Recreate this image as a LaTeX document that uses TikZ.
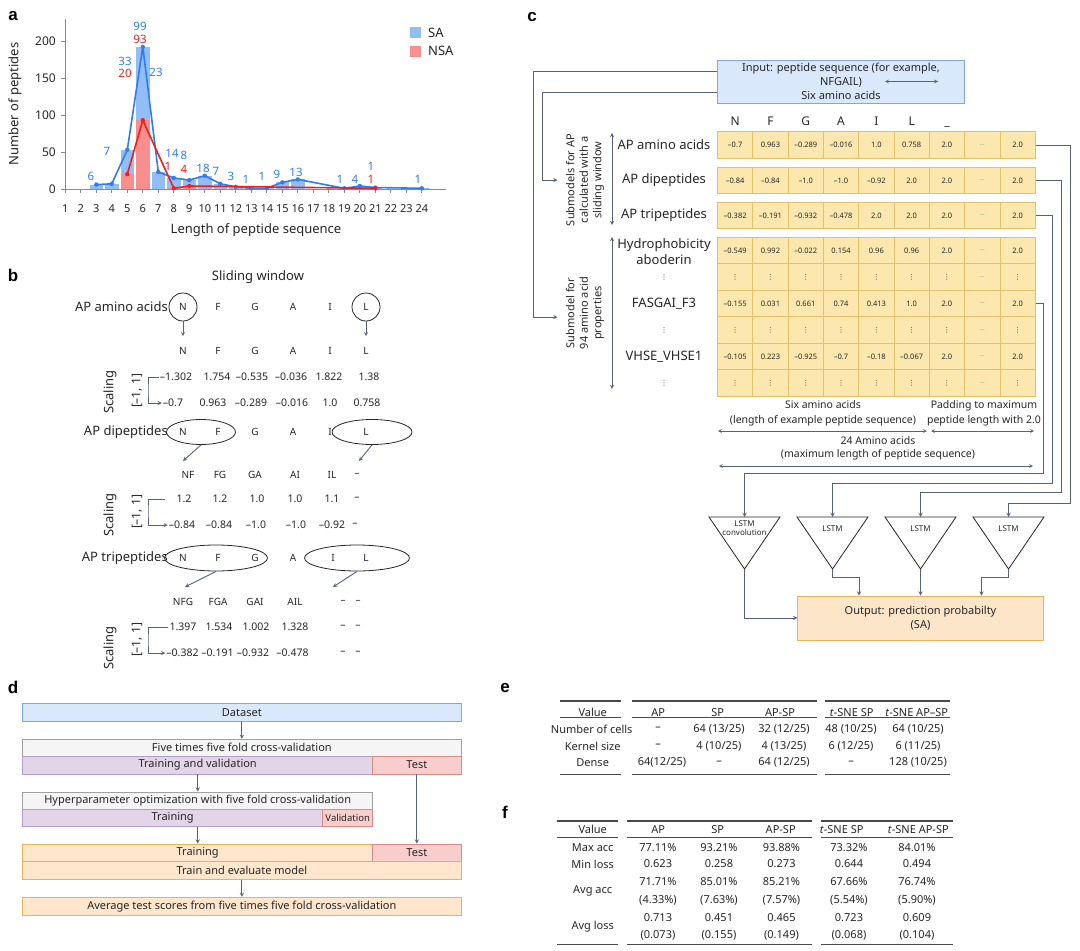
\documentclass[tikz,border=0pt]{standalone}
\usepackage{fontspec}
\setmainfont{Noto Sans}
\newfontfamily\tagfont{Liberation Sans}
\newfontfamily\symfont{DejaVu Sans}
\usepackage{amsmath}
\usepackage{tikz}
\usetikzlibrary{calc}
\usetikzlibrary{shapes.geometric}
\definecolor{textdark}{HTML}{262626}
\definecolor{sabar}{HTML}{93BDF5}
\definecolor{sablue}{HTML}{2F7DF2}
\definecolor{nsabar}{HTML}{F98E8E}
\definecolor{nsared}{HTML}{F21E1E}
\definecolor{axisgray}{HTML}{8A8A8A}
\definecolor{arrowgray}{HTML}{56627A}
\definecolor{boxblue}{HTML}{DAE8FC}
\definecolor{boxblueline}{HTML}{7EA6E0}
\definecolor{cellfill}{HTML}{FCE8AE}
\definecolor{cellline}{HTML}{E3C16C}
\definecolor{outfill}{HTML}{FDE5C9}
\definecolor{outline}{HTML}{EBB458}
\definecolor{grayfill}{HTML}{F5F5F5}
\definecolor{grayline}{HTML}{A0A0A0}
\definecolor{purplefill}{HTML}{E1D5E7}
\definecolor{purpleline}{HTML}{B39DC6}
\definecolor{redfill}{HTML}{F8CECC}
\definecolor{redline}{HTML}{DC8A88}
\definecolor{orangefill}{HTML}{FFE6CC}
\definecolor{orangeline}{HTML}{E8B450}
\definecolor{rulegray}{HTML}{4A4A4A}
\newcommand{\padots}{{\fontsize{6}{6}\selectfont\color{gray}...}}
\newcommand{\rowdots}{{\symfont\fontsize{7}{7}\selectfont ⋮}}
\tikzset{
	paneltag/.style={font=\tagfont\fontsize{17}{19}\selectfont\bfseries,text=black,inner sep=0},
	axisline/.style={draw=axisgray,line width=0.8pt},
	ticktext/.style={font=\fontsize{11}{13}\selectfont,text=textdark,inner sep=0},
	ytick/.style={font=\fontsize{12}{14}\selectfont,text=textdark,inner sep=0},
	satext/.style={font=\fontsize{11.5}{13}\selectfont,text=sablue,inner sep=0},
	nsatext/.style={font=\fontsize{11.5}{13}\selectfont,text=nsared,inner sep=0},
	bigtext/.style={font=\fontsize{13}{15}\selectfont,text=textdark},
	smalltext/.style={font=\fontsize{10.5}{15}\selectfont,text=textdark,align=center},
	lettext/.style={font=\fontsize{10}{12}\selectfont,text=textdark,inner sep=1pt},
	valtext/.style={font=\fontsize{10.5}{12}\selectfont,text=textdark,inner sep=1pt},
	scaletext/.style={font=\fontsize{13}{15}\selectfont,text=textdark,rotate=90,inner sep=0},
	wincircle/.style={circle,draw=black!85,line width=0.8pt,minimum size=28pt,inner sep=0},
	winoval/.style={ellipse,draw=black!85,line width=0.8pt,minimum height=25pt,inner sep=0},
	flowarrow/.style={draw=arrowgray,line width=0.9pt,-stealth},
	twoway/.style={draw=arrowgray,line width=0.9pt,stealth-stealth},
	cell/.style={rectangle,draw=cellline,fill=cellfill,line width=0.7pt,minimum width=35.3pt,minimum height=26.5pt,inner sep=0,font=\fontsize{7.5}{9}\selectfont,text=textdark},
	colletter/.style={font=\fontsize{12}{14}\selectfont,text=textdark,anchor=base,inner sep=0},
	rowlabel/.style={font=\fontsize{13}{15.3}\selectfont,text=textdark,align=center},
	sidelabel/.style={font=\fontsize{11}{13.5}\selectfont,text=textdark,align=center,rotate=90},
	lstmtext/.style={font=\fontsize{8}{9}\selectfont,text=textdark,align=center,inner sep=0},
	trishape/.style={draw=black!85,line width=0.8pt},
	flowbox/.style={rectangle,line width=0.8pt,inner sep=0,font=\fontsize{11}{14}\selectfont,text=textdark},
	bluebox/.style={flowbox,fill=boxblue,draw=boxblueline},
	graybox/.style={flowbox,fill=grayfill,draw=grayline},
	purplebox/.style={flowbox,fill=purplefill,draw=purpleline},
	redbox/.style={flowbox,fill=redfill,draw=redline},
	orangebox/.style={flowbox,fill=orangefill,draw=orangeline},
	tabtext/.style={font=\fontsize{11}{13}\selectfont,text=textdark,inner sep=0},
	tabrule/.style={draw=rulegray,line width=1.1pt},
	tabrulethin/.style={draw=rulegray,line width=0.7pt}
}

\begin{document}
\begin{tikzpicture}[x=1pt,y=-1pt]
	\useasboundingbox (0,0) rectangle (1080,951);
	% panel a
	\node[paneltag] (pa) at (13,16) {a};
	\foreach \n/\v in {3/6,4/7,5/53,6/192,7/23,8/15,9/12,10/18,11/7,12/3,13/1,14/1,15/9,16/13,19/1,20/4,21/2,24/1}
		\fill[sabar] (43+15.5*\n,189) rectangle ++(13.6,-0.74*\v);
	\foreach \n/\v in {5/20,6/93,8/1,9/4,21/1}
		\fill[nsabar] (43+15.5*\n,189) rectangle ++(13.6,-0.74*\v);
	\draw[axisline] (65,19) -- (65,189) -- (446,189);
	\foreach \n in {1,...,24} {
		\draw[axisline] (49.8+15.5*\n,189) -- ++(0,4);
		\node[ticktext] (xt\n) at (49.8+15.5*\n,209) {\n};
	}
	\foreach \v in {0,50,100,150,200} {
		\draw[axisline] (65,189-0.74*\v) -- ++(-4,0);
		\node[ytick,anchor=east] (yt\v) at (56,189-0.74*\v) {\v};
	}
	\draw[sablue,line width=1.6pt,line join=round] (96.3,184.6) -- (111.8,183.8) -- (127.3,149.8) -- (142.8,46.9) -- (158.3,172) -- (173.8,177.9) -- (189.3,180.1) -- (204.8,175.7) -- (220.3,183.8) -- (235.8,186.8) -- (251.3,188.3) -- (266.8,188.3) -- (282.3,182.3) -- (297.8,179.4) -- (344.3,188.3) -- (359.8,186) -- (375.3,187.5) -- (421.8,188.3);
	\foreach \n/\v in {3/6,4/7,5/53,6/192,7/23,8/15,9/12,10/18,11/7,12/3,13/1,14/1,15/9,16/13,19/1,20/4,21/2,24/1}
		\fill[sablue] (49.8+15.5*\n,189-0.74*\v) circle (2.2);
	\draw[nsared,line width=1.6pt,line join=round] (127.3,174.2) -- (142.8,120.2) -- (173.8,188.3) -- (189.3,186) -- (375.3,188.3);
	\foreach \n/\v in {5/20,6/93,8/1,9/4,21/1}
		\fill[nsared] (49.8+15.5*\n,189-0.74*\v) circle (2.2);
	\foreach \x/\y/\t [count=\i] in {91/176/6,107/151/7,125/61/33,140/26/99,156/72/23,172/153/14,184/155/8,203/168/18,216/171/7,231/176/3,246/179/1,262/176/1,277/174/9,296/172/13,340/179/1,355/179/4,371/166/1,418/179/1}
		\node[satext] (sal\i) at (\x,\y) {\t};
	\foreach \x/\y/\t [count=\i] in {125/73/20,140/39/93,168/166/1,184/169/4,371/179/1}
		\node[nsatext] (nsal\i) at (\x,\y) {\t};
	\node[rectangle,fill=sabar,minimum size=11pt,inner sep=0] (legsa) at (415.3,32.8) {};
	\node[rectangle,fill=nsabar,minimum size=11pt,inner sep=0] (legnsa) at (415.3,51.2) {};
	\node[bigtext,anchor=west,inner sep=0] (legsat) at (428,32.8) {SA};
	\node[bigtext,anchor=west,inner sep=0] (legnsat) at (428,51.2) {NSA};
	\node[bigtext,rotate=90] (ylab) at (15,104) {Number of peptides};
	\node[bigtext] (xlab) at (256,230) {Length of peptide sequence};

	% panel b
	\node[paneltag] (pb) at (13,275) {b};
	\node[bigtext] (swin) at (258,277) {Sliding window};
	\node[bigtext,anchor=east,inner sep=0] (bl1) at (168,307) {AP amino acids};
	\foreach \x/\t [count=\i] in {183/N,218/F,255/G,293/A,330/I,366/L}
		\node[lettext] (b1l\i) at (\x,307) {\t};
	\node[wincircle] (bwin1) at (183,307) {};
	\node[wincircle] (bwin2) at (366,307) {};
	\foreach \x/\t [count=\i] in {183/N,218/F,255/G,293/A,330/I,366/L}
		\node[lettext] (b2l\i) at (\x,351) {\t};
	\draw[flowarrow,shorten >=10pt] (bwin1) -- (b2l1);
	\draw[flowarrow,shorten >=10pt] (bwin2) -- (b2l6);
	\foreach \x/\t [count=\i] in {176/--1.302,217/1.754,252/--0.535,291/--0.036,329/1.822,369/1.38}
		\node[valtext] (b1v\i) at (\x,377) {\t};
	\foreach \x/\t [count=\i] in {173/--0.7,213/0.963,251/--0.289,292/--0.016,330/1.0,367/0.758}
		\node[valtext] (b2v\i) at (\x,403) {\t};
	\node[scaletext] (bsc1) at (110,392) {Scaling};
	\node[scaletext,font=\fontsize{12}{14}\selectfont] (bsr1) at (137,391) {[--1, 1]};
	\draw[flowarrow] (b1v1.west) -| (148,390) |- (b2v1.west);

	\node[bigtext,anchor=east,inner sep=0] (bl2) at (168,432) {AP dipeptides};
	\foreach \x/\t [count=\i] in {183/N,218/F,255/G,293/A,330/I,366/L}
		\node[lettext] (b3l\i) at (\x,432) {\t};
	\node[winoval,minimum width=69pt] (bov1) at (201,432) {};
	\node[winoval,minimum width=80pt] (bov2) at (372,432) {};
	\coordinate (bd1) at (183,461);
	\coordinate (bd2) at (359,461);
	\draw[flowarrow] (bov1.south) -- (bd1);
	\draw[flowarrow] (bov2.south) -- (bd2);
	\foreach \x/\t [count=\i] in {188/NF,220/FG,255/GA,295/AI,332/IL,357/--}
		\node[lettext] (b4l\i) at (\x,475) {\t};
	\foreach \x/\t [count=\i] in {184/1.2,220/1.2,257/1.0,295/1.0,332/1.1,357/--}
		\node[valtext] (b4v\i) at (\x,499) {\t};
	\foreach \x/\t [count=\i] in {182/--0.84,219/--0.84,256/--1.0,296/--1.0,332/--0.92,355/--}
		\node[valtext] (b5v\i) at (\x,525) {\t};
	\node[scaletext] (bsc2) at (110,515) {Scaling};
	\node[scaletext,font=\fontsize{12}{14}\selectfont] (bsr2) at (137,512) {[--1, 1]};
	\draw[flowarrow] ([xshift=-10pt]b4v1.west) -| (148,510) |- (b5v1.west);

	\node[bigtext,anchor=east,inner sep=0] (bl3) at (168,558) {AP tripeptides};
	\foreach \x/\t [count=\i] in {183/N,218/F,255/G,293/A,333/I,366/L}
		\node[lettext] (b6l\i) at (\x,558) {\t};
	\node[winoval,minimum width=103pt,minimum height=26pt] (bov3) at (216,558) {};
	\node[winoval,minimum width=105pt,minimum height=26pt] (bov4) at (357,558) {};
	\coordinate (bd3) at (185,587);
	\coordinate (bd4) at (333,587);
	\draw[flowarrow] (bov3.south) -- (bd3);
	\draw[flowarrow] (bov4.south) -- (bd4);
	\foreach \x/\t [count=\i] in {183/NFG,218/FGA,255/GAI,295/AIL,343/--,358/--}
		\node[lettext] (b7l\i) at (\x,602) {\t};
	\foreach \x/\t [count=\i] in {183/1.397,219/1.534,256/1.002,295/1.328,343/--,358/--}
		\node[valtext] (b7v\i) at (\x,627) {\t};
	\foreach \x/\t [count=\i] in {182.5/--0.382,217.5/--0.191,253/--0.932,292.5/--0.478,343/--,358/--}
		\node[valtext] (b8v\i) at (\x,653) {\t};
	\node[scaletext] (bsc3) at (110,648) {Scaling};
	\node[scaletext,font=\fontsize{12}{14}\selectfont] (bsr3) at (137,640) {[--1, 1]};
	\draw[flowarrow] (b7v1.west) -| (148,640) |- (b8v1.west);

	% panel c
	\node[paneltag] (pc) at (532,17) {c};
	\node[bluebox,minimum width=247pt,minimum height=43.3pt,align=center] (inp) at (841,81.7) {Input: peptide sequence (for example,\\NFGAIL)\\Six amino acids};
	\coordinate (nf1) at (885,81.5);
	\coordinate (nf2) at (938,81.5);
	\draw[twoway,line width=0.7pt] (nf1) -- (nf2);
	\foreach \t [count=\c] in {N,F,G,A,I,L,\_}
		\node[colletter] (ch\c) at (699.85+35.3*\c,125) {\t};
	\foreach \v [count=\c] in {--0.7,0.963,--0.289,--0.016,1.0,0.758,2.0,\padots,2.0}
		\node[cell] (r1c\c) at (699.85+35.3*\c,145) {\v};
	\foreach \v [count=\c] in {--0.84,--0.84,--1.0,--1.0,--0.92,2.0,2.0,\padots,2.0}
		\node[cell] (r2c\c) at (699.85+35.3*\c,180.5) {\v};
	\foreach \v [count=\c] in {--0.382,--0.191,--0.932,--0.478,2.0,2.0,2.0,\padots,2.0}
		\node[cell] (r3c\c) at (699.85+35.3*\c,215.5) {\v};
	\foreach \v [count=\c] in {--0.549,0.992,--0.022,0.154,0.96,0.96,2.0,\padots,2.0}
		\node[cell] (p1c\c) at (699.85+35.3*\c,250.5) {\v};
	\foreach \v [count=\c] in {\rowdots,\rowdots,\rowdots,\rowdots,\rowdots,\rowdots,\rowdots,\padots,\rowdots}
		\node[cell] (p2c\c) at (699.85+35.3*\c,277) {\v};
	\foreach \v [count=\c] in {--0.155,0.031,0.661,0.74,0.413,1.0,2.0,\padots,2.0}
		\node[cell] (p3c\c) at (699.85+35.3*\c,303.5) {\v};
	\foreach \v [count=\c] in {\rowdots,\rowdots,\rowdots,\rowdots,\rowdots,\rowdots,\rowdots,\padots,\rowdots}
		\node[cell] (p4c\c) at (699.85+35.3*\c,330) {\v};
	\foreach \v [count=\c] in {--0.105,0.223,--0.925,--0.7,--0.18,--0.067,2.0,\padots,2.0}
		\node[cell] (p5c\c) at (699.85+35.3*\c,356.5) {\v};
	\foreach \v [count=\c] in {\rowdots,\rowdots,\rowdots,\rowdots,\rowdots,\rowdots,\rowdots,\padots,\rowdots}
		\node[cell] (p6c\c) at (699.85+35.3*\c,383) {\v};
	\node[rowlabel] (lr1) at (664,145) {AP amino acids};
	\node[rowlabel] (lr2) at (664,180.5) {AP dipeptides};
	\node[rowlabel] (lr3) at (664,215.5) {AP tripeptides};
	\node[rowlabel] (lp1) at (664,251.5) {Hydrophobicity\\aboderin};
	\node[rowlabel] (lp2) at (664,277) {\rowdots};
	\node[rowlabel] (lp3) at (664,303.5) {FASGAI\_F3};
	\node[rowlabel] (lp4) at (664,330) {\rowdots};
	\node[rowlabel] (lp5) at (664,356.5) {VHSE\_VHSE1};
	\node[rowlabel] (lp6) at (664,383) {\rowdots};
	\node[sidelabel] (sub1) at (585,180) {Submodels for AP\\calculated with a\\sliding window};
	\node[sidelabel] (sub2) at (585,313) {Submodel for\\94 amino acid\\properties};
	\coordinate (va1) at (612,133);
	\coordinate (va2) at (612,225);
	\coordinate (vb1) at (612,237);
	\coordinate (vb2) at (612,389);
	\draw[twoway] (va1) -- (va2);
	\draw[twoway] (vb1) -- (vb2);
	\coordinate (sub1in) at (557.5,180);
	\coordinate (sub2in) at (557.5,317);
	\draw[flowarrow] ([yshift=10.7pt]inp.west) -| (533.6,317) -- (sub2in);
	\draw[flowarrow] ([yshift=-10.6pt]inp.west) -| (542,180) -- (sub1in);
	\node[smalltext] (six) at (823,413.5) {Six amino acids\\(length of example peptide sequence)};
	\node[smalltext] (pad) at (984,413.5) {Padding to maximum\\peptide length with 2.0};
	\node[smalltext,font=\fontsize{10.5}{13.5}\selectfont] (maxlen) at (878,448.5) {24 Amino acids\\(maximum length of peptide sequence)};
	\coordinate (ha1) at (718,431);
	\coordinate (ha2) at (927,431);
	\coordinate (hb1) at (931,431);
	\coordinate (hb2) at (1034,431);
	\coordinate (hc1) at (719,466);
	\coordinate (hc2) at (1033,466);
	\draw[twoway,line width=0.7pt] (ha1) -- (ha2);
	\draw[twoway,line width=0.7pt] (hb1) -- (hb2);
	\draw[twoway,line width=0.7pt] (hc1) -- (hc2);
	\foreach \i/\cx in {1/744.5,2/832.5,3/920.5,4/1008.5} {
		\draw[trishape] (\cx-35.5,517) -- (\cx+35.5,517) -- (\cx,569) -- cycle;
		\coordinate (t\i t) at (\cx,517);
		\coordinate (t\i b) at (\cx,569);
	}
	\node[lstmtext] (lstm1) at (744.5,528.5) {LSTM\\convolution};
	\node[lstmtext] (lstm2) at (832.5,529) {LSTM};
	\node[lstmtext] (lstm3) at (920.5,529) {LSTM};
	\node[lstmtext] (lstm4) at (1008.5,529) {LSTM};
	\draw[flowarrow] (r1c9.east) -| (1070,503) -| (t4t);
	\draw[flowarrow] (r2c9.east) -| (1061,492) -| (t3t);
	\draw[flowarrow] (r3c9.east) -| (1052,483) -| (t2t);
	\draw[flowarrow] (p3c9.east) -| (1043,473) -| (t1t);
	\node[flowbox,fill=outfill,draw=outline,minimum width=245.6pt,minimum height=44pt,align=center] (out) at (920.5,618) {Output: prediction probabilty\\(SA)};
	\draw[flowarrow] (t1b) |- (out.west);
	\draw[flowarrow] (t2b) -- ++(0,8) -| ([xshift=-61.5pt]out.north);
	\draw[flowarrow] (t3b) -- (out.north);
	\draw[flowarrow] (t4b) -- ++(0,8) -| ([xshift=61pt]out.north);

	% panel d
	\node[paneltag] (pd) at (13,687) {d};
	\node[bluebox,minimum width=438.3pt,minimum height=17.7pt] (ds) at (241.85,712.15) {Dataset};
	\node[graybox,minimum width=438.3pt,minimum height=16.7pt] (cv) at (241.85,747.65) {Five times five fold cross-validation};
	\node[purplebox,minimum width=350pt,minimum height=18pt] (tv) at (197.7,765) {Training and validation};
	\node[redbox,minimum width=88.3pt,minimum height=18pt] (te1) at (416.85,765) {Test};
	\node[graybox,minimum width=350pt,minimum height=17.3pt] (hp) at (197.7,800.65) {Hyperparameter optimization with five fold cross-validation};
	\node[purplebox,minimum width=300pt,minimum height=17.4pt] (tr1) at (172.7,818) {Training};
	\node[redbox,minimum width=50pt,minimum height=17.4pt,font=\fontsize{9.5}{11}\selectfont] (val) at (347.7,818) {Validation};
	\node[orangebox,minimum width=350pt,minimum height=17.7pt] (tr2) at (197.7,852.85) {Training};
	\node[redbox,minimum width=88.3pt,minimum height=17.7pt] (te2) at (416.85,852.85) {Test};
	\node[orangebox,minimum width=438.3pt,minimum height=17.6pt] (tem) at (241.85,870.5) {Train and evaluate model};
	\node[orangebox,minimum width=438.3pt,minimum height=17.7pt] (avg) at (241.85,906.15) {Average test scores from five times five fold cross-validation};
	\draw[flowarrow] (ds) -- (cv);
	\draw[flowarrow] (tv.south) -- (hp.north);
	\draw[flowarrow] (tr1.south -| tr2.north) -- (tr2.north);
	\draw[flowarrow] (te1) -- (te2);
	\draw[flowarrow] (tem) -- (avg);

	% panel e
	\node[paneltag] (pe) at (505,688) {e};
	\foreach \a/\b in {560/621,631.7/816.7,825/950} {
		\draw[tabrule] (\a,701) -- (\b,701);
		\draw[tabrulethin] (\a,717.7) -- (\b,717.7);
		\draw[tabrule] (\a,774.3) -- (\b,774.3);
	}
	\foreach \x/\t [count=\c] in {592.7/Value,658.3/AP,717.7/SP,780/AP-SP,851.7/\textit{t}-SNE SP,916.7/\textit{t}-SNE AP--SP}
		\node[tabtext] (eh\c) at (\x,712.3) {\t};
	\foreach \x/\t [count=\c] in {591.7/Number of cells,658/--,719/{64 (13/25)},784/{32 (12/25)},851/{48 (10/25)},918/{64 (10/25)}}
		\node[tabtext] (e1c\c) at (\x,729) {\t};
	\foreach \x/\t [count=\c] in {592.7/Kernel size,658/--,719/{4 (10/25)},784/{4 (13/25)},851/{6 (12/25)},918/{6 (11/25)}}
		\node[tabtext] (e2c\c) at (\x,746) {\t};
	\foreach \x/\t [count=\c] in {592.7/Dense,662/{64(12/25)},719/--,784/{64 (12/25)},851/--,918/{128 (10/25)}}
		\node[tabtext] (e3c\c) at (\x,762.7) {\t};

	% panel f
	\node[paneltag] (pf) at (505,812) {f};
	\foreach \a/\b in {556.7/617.7,627.3/811.7,821/953.3} {
		\draw[tabrule] (\a,821) -- (\b,821);
		\draw[tabrulethin] (\a,837.7) -- (\b,837.7);
		\draw[tabrule] (\a,944.3) -- (\b,944.3);
	}
	\foreach \x/\t [count=\c] in {592.7/Value,658.3/AP,717.7/SP,780.7/AP-SP,841.7/\textit{t}-SNE SP,918.3/\textit{t}-SNE AP-SP}
		\node[tabtext] (fh\c) at (\x,829.3) {\t};
	\foreach \x/\t [count=\c] in {592.7/Max acc,658/77.11\%,719/93.21\%,781.5/93.88\%,849/73.32\%,917/84.01\%}
		\node[tabtext] (f1c\c) at (\x,847.3) {\t};
	\foreach \x/\t [count=\c] in {592.7/Min loss,658/0.623,719/0.258,781.5/0.273,849/0.644,917/0.494}
		\node[tabtext] (f2c\c) at (\x,864) {\t};
	\node[tabtext] (f3c1) at (592.7,891) {Avg acc};
	\foreach \x/\t/\s [count=\c] in {658/71.71\%/(4.33\%),719/85.01\%/(7.63\%),781.5/85.21\%/(7.57\%),849/67.66\%/(5.54\%),917/76.74\%/(5.90\%)} {
		\node[tabtext] (f3a\c) at (\x,881.7) {\t};
		\node[tabtext] (f3b\c) at (\x,900) {\s};
	}
	\node[tabtext] (f4c1) at (592.7,926.7) {Avg loss};
	\foreach \x/\t/\s [count=\c] in {658/0.713/(0.073),719/0.451/(0.155),781.5/0.465/(0.149),849/0.723/(0.068),917/0.609/(0.104)} {
		\node[tabtext] (f4a\c) at (\x,917.7) {\t};
		\node[tabtext] (f4b\c) at (\x,935.7) {\s};
	}
\end{tikzpicture}
\end{document}
